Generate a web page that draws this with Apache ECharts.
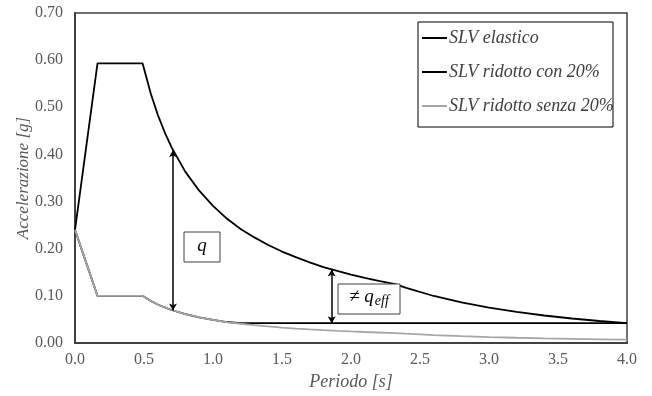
<!DOCTYPE html>
<html>
<head>
  <meta charset="UTF-8">
  <script src="https://cdn.jsdelivr.net/npm/echarts@6/dist/echarts.min.js"></script>
  <style>
    html, body { margin: 0; padding: 0; background: #fff; }
    #chart { width: 652px; height: 396px; }
  </style>
</head>
<body>
<div id="chart"></div>
<script type="text/javascript">
  // periodi [s]
  var periodi = [0, 0.163, 0.49, 0.55, 0.6, 0.65, 0.7, 0.8, 0.9, 1.0, 1.1, 1.2, 1.3, 1.4, 1.5, 1.6,
                 1.7, 1.8, 1.9, 2.0, 2.1, 2.2, 2.32, 2.4, 2.6, 2.8, 3.0, 3.2, 3.4, 3.6, 3.8, 4.0];
  // accelerazioni [g]
  var slvElastico = [0.240, 0.593, 0.593, 0.528, 0.484, 0.447, 0.415, 0.363, 0.323, 0.291, 0.264, 0.242,
                     0.224, 0.208, 0.194, 0.182, 0.171, 0.161, 0.153, 0.145, 0.138, 0.132, 0.125, 0.117,
                     0.0997, 0.086, 0.0749, 0.0658, 0.0583, 0.052, 0.0467, 0.0421];
  var slvSenza = [0.240, 0.100, 0.100, 0.089, 0.0816, 0.0754, 0.070, 0.0612, 0.0545, 0.049, 0.0445, 0.0408,
                  0.0378, 0.0351, 0.0327, 0.0307, 0.0288, 0.0272, 0.0258, 0.0245, 0.0233, 0.0223, 0.0211,
                  0.0197, 0.0168, 0.0145, 0.0126, 0.0111, 0.0098, 0.0088, 0.0079, 0.0071];
  var slvCon = [0.240, 0.100, 0.100, 0.089, 0.0816, 0.0754, 0.070, 0.0612, 0.0545, 0.049, 0.0445, 0.042,
                0.042, 0.042, 0.042, 0.042, 0.042, 0.042, 0.042, 0.042, 0.042, 0.042, 0.042,
                0.042, 0.042, 0.042, 0.042, 0.042, 0.042, 0.042, 0.042, 0.042];
  var nomi = ['SLV elastico', 'SLV ridotto con 20%', 'SLV ridotto senza 20%'];
  // frecce: [periodo, da, a]
  var frecciaQ = [0.71, 0.069, 0.409];
  var frecciaQeff = [1.86, 0.042, 0.156];

  function coppie(ys) {
    var out = [];
    for (var i = 0; i < periodi.length; i++) out.push([periodi[i], ys[i]]);
    return out;
  }

  var serif = "'Liberation Serif', 'DejaVu Serif', serif";
  var chart = echarts.init(document.getElementById('chart'), null, {renderer: 'canvas'});

  var option = {
    animation: false,
    backgroundColor: '#fff',
    grid: {
      left: 75, right: 25, top: 13, bottom: 53,
      outerBoundsMode: 'none',
      show: true, borderColor: '#404040', borderWidth: 1.5
    },
    legend: {
      orient: 'vertical',
      left: 422, top: 29,
      itemGap: 16, itemWidth: 25, itemHeight: 2,
      icon: 'rect',
      padding: 0,
      data: nomi,
      textStyle: {fontFamily: serif, fontStyle: 'italic', fontSize: 18, color: '#404040', padding: [0, 0, 0, -3]}
    },
    xAxis: {
      type: 'value', min: 0, max: 4, interval: 0.5,
      name: 'Periodo [s]', nameLocation: 'middle', nameGap: 30,
      nameTextStyle: {fontFamily: serif, fontStyle: 'italic', fontSize: 18, color: '#595959'},
      axisLine: {lineStyle: {color: '#404040', width: 2}},
      axisTick: {show: false},
      splitLine: {show: false},
      axisLabel: {fontFamily: serif, fontSize: 16, color: '#595959', margin: 9,
        formatter: function (v) { return v.toFixed(1); }}
    },
    yAxis: {
      type: 'value', min: 0, max: 0.7, interval: 0.1,
      name: 'Accelerazione [g]', nameLocation: 'middle', nameGap: 43,
      nameMoveOverlap: false,
      nameTextStyle: {fontFamily: serif, fontStyle: 'italic', fontSize: 17, color: '#595959'},
      axisLine: {show: true, lineStyle: {color: '#404040', width: 2}},
      axisTick: {show: false},
      splitLine: {show: false},
      axisLabel: {fontFamily: serif, fontSize: 16, color: '#595959', margin: 12,
        formatter: function (v) { return v.toFixed(2); }}
    },
    series: [
      {
        name: nomi[0], type: 'line', data: coppie(slvElastico),
        symbol: 'none', lineStyle: {color: '#000', width: 1.8}, itemStyle: {color: '#000'},
        markLine: {
          silent: true, symbol: ['arrow', 'arrow'], symbolSize: [6, 7],
          label: {show: false},
          lineStyle: {color: '#000', width: 1.5, type: 'solid'},
          data: [
            [{coord: [frecciaQ[0], frecciaQ[1]]}, {coord: [frecciaQ[0], frecciaQ[2]]}],
            [{coord: [frecciaQeff[0], frecciaQeff[1]]}, {coord: [frecciaQeff[0], frecciaQeff[2]]}]
          ]
        }
      },
      {
        name: nomi[1], type: 'line', data: coppie(slvCon),
        symbol: 'none', lineStyle: {color: '#000', width: 1.8}, itemStyle: {color: '#000'}
      },
      {
        name: nomi[2], type: 'line', data: coppie(slvSenza),
        symbol: 'none', lineStyle: {color: '#a6a6a6', width: 1.8}, itemStyle: {color: '#a6a6a6'}
      }
    ],
    graphic: [
      {type: 'rect', z: 100, shape: {x: 418, y: 22, width: 195, height: 105},
        style: {fill: 'none', stroke: '#000', lineWidth: 1}},
      {type: 'rect', z: 100, shape: {x: 184, y: 232, width: 36, height: 30},
        style: {fill: '#fff', stroke: '#404040', lineWidth: 1}},
      {type: 'text', z: 101, x: 202, y: 246,
        style: {text: 'q', fontFamily: serif, fontStyle: 'italic', fontSize: 19, fill: '#000',
          align: 'center', verticalAlign: 'middle'}},
      {type: 'rect', z: 100, shape: {x: 338, y: 284, width: 62, height: 30},
        style: {fill: '#fff', stroke: '#404040', lineWidth: 1}},
      {type: 'text', z: 101, x: 369, y: 297,
        style: {
          text: '{a|≠ q}{b|eff}', align: 'center', verticalAlign: 'middle',
          rich: {
            a: {fontFamily: serif, fontStyle: 'italic', fontSize: 19, color: '#000'},
            b: {fontFamily: serif, fontStyle: 'italic', fontSize: 14, color: '#000', padding: [8, 0, 0, 1]}
          }
        }}
    ]
  };
  chart.setOption(option);
</script>
</body>
</html>
